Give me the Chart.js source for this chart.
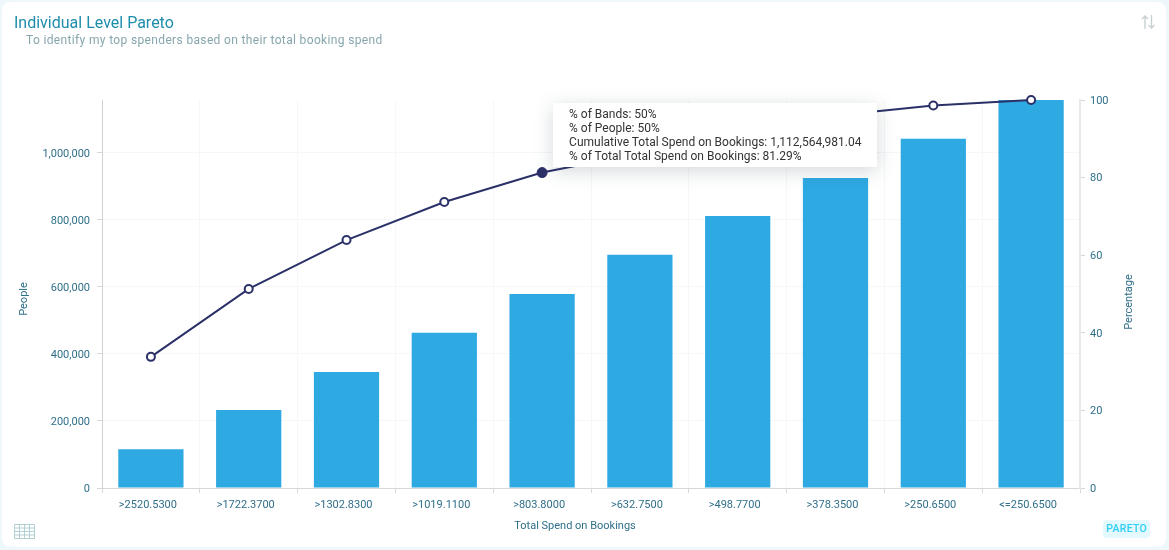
<!DOCTYPE html>
<html>
<head>
<meta charset="utf-8">
<script src="https://cdn.jsdelivr.net/npm/chart.js@4/dist/chart.umd.min.js"></script>
<style>
    html, body { margin: 0; padding: 0; width: 1169px; height: 550px; overflow: hidden; background: #eef7f9; font-family: Roboto, sans-serif; }
    #card { position: absolute; left: 2px; top: 2px; width: 1164px; height: 545px; background: #fff; border-radius: 8px; }
    #chartWrap { position: absolute; left: 0; top: 0; width: 1169px; height: 550px; }
    #title { position: absolute; left: 14px; top: 13px; font-size: 16px; line-height: 19px; color: #1d8dab; }
    #subtitle { position: absolute; left: 26px; top: 33px; font-size: 12px; line-height: 15px; letter-spacing: 0.35px; color: #86a6ae; }
    .axisTitle { position: absolute; font-size: 11px; line-height: 13px; color: #2f6f8a; white-space: nowrap; transform: translate(-50%, -50%); }
    .axisTitle.side { transform: translate(-50%, -50%) rotate(-90deg); }
    #badge { position: absolute; left: 1103px; top: 520px; width: 47px; height: 18px; line-height: 18px; text-align: center; border-radius: 4px; background: #e4f9fe; color: #2fd0f5; font-size: 10.5px; font-weight: 500; letter-spacing: 0.3px; }
    #tip { position: absolute; display: none; background: #fff; color: #333; font-size: 12px; line-height: 14px; padding: 4px 16px; box-shadow: 0 4px 18px rgba(60, 80, 90, 0.22); white-space: nowrap; }
    svg { position: absolute; }
</style>
</head>
<body>
<div id="card"></div>
<div id="chartWrap"><canvas id="paretoChart" width="1169" height="550"></canvas></div>
<div id="title">Individual Level Pareto</div>
<div id="subtitle">To identify my top spenders based on their total booking spend</div>
<div class="axisTitle side" style="left:23px;top:299px">People</div>
<div class="axisTitle side" style="left:1128px;top:302px">Percentage</div>
<div class="axisTitle" style="left:575px;top:525px">Total Spend on Bookings</div>
<svg style="left:1141px;top:14px" width="15" height="16" viewBox="0 0 15 16" fill="none" stroke="#c8d0d2" stroke-width="1.4">
    <path d="M4 15V2M1 5l3-3 3 3M10.500 1v13M7.500 11l3 3 3-3"/>
</svg>
<svg style="left:14px;top:524px" width="21" height="15" viewBox="0 0 21 15" fill="none" stroke="#b2cfd3" stroke-width="1">
    <path d="M.5.500h20v14H.5zM.5 4h20M.5 7.500h20M.5 11h20M5.500.5v14M10.500.5v14M15.500.5v14"/>
</svg>
<div id="badge">PARETO</div>
<div id="tip"></div>
<script>
    const categories = ['>2520.5300', '>1722.3700', '>1302.8300', '>1019.1100', '>803.8000', '>632.7500', '>498.7700', '>378.3500', '>250.6500', '<=250.6500'];
    const people = [116000, 233000, 346000, 463000, 579000, 696000, 812000, 925000, 1042000, 1158000];
    const percentage = [33.8, 51.3, 63.9, 73.7, 81.29, 86.3, 92, 96, 98.6, 100];
    const peopleTicks = [0, 200000, 400000, 600000, 800000, 1000000];
    const percentTicks = [0, 20, 40, 60, 80, 100];
    const tooltipLines = [
        '% of Bands: 50%',
        '% of People: 50%',
        'Cumulative Total Spend on Bookings: 1,112,564,981.04',
        '% of Total Total Spend on Bookings: 81.29%'
    ];
    const activeIndex = 4;

    const tickColor = '#2f6f8a';
    const navy = '#2b3068';

    function externalTip(context) {
        const tip = document.getElementById('tip');
        const tooltip = context.tooltip;
        if (tooltip.opacity === 0) {
            tip.style.display = 'none';
            return;
        }
        tip.innerHTML = tooltipLines.map(function(line) { return '<div>' + line + '</div>'; }).join('');
        tip.style.display = 'block';
        tip.style.left = (tooltip.caretX + 11) + 'px';
        tip.style.top = '103px';
    }

    const chart = new Chart(document.getElementById('paretoChart').getContext('2d'), {
        type: 'bar',
        data: {
            labels: categories,
            datasets: [{
                type: 'line',
                label: 'Percentage',
                data: percentage,
                yAxisID: 'y1',
                borderColor: navy,
                borderWidth: 2,
                backgroundColor: '#fff',
                pointBackgroundColor: '#fff',
                pointBorderColor: navy,
                pointBorderWidth: 2,
                pointRadius: 4,
                pointHoverRadius: 5,
                pointHoverBackgroundColor: navy,
                pointHoverBorderColor: navy,
                pointHoverBorderWidth: 1,
                tension: 0,
                clip: false,
                order: 1
            }, {
                type: 'bar',
                label: 'People',
                data: people,
                yAxisID: 'y',
                backgroundColor: '#2ea9e2',
                categoryPercentage: 1,
                barPercentage: 0.667,
                order: 2
            }]
        },
        options: {
            responsive: false,
            animation: false,
            events: [],
            layout: { padding: { left: 14, right: 32, top: 100, bottom: 18 } },
            plugins: {
                legend: { display: false },
                tooltip: { enabled: false, external: externalTip }
            },
            scales: {
                x: {
                    grid: { color: '#f5f7f8', tickColor: '#d5d8da', tickLength: 5 },
                    border: { color: '#d5d8da' },
                    ticks: { color: tickColor, font: { family: 'Roboto', size: 11 }, maxRotation: 0, autoSkip: false, padding: 6, labelOffset: -3 },
                    afterFit: function(scale) { scale.height = 44; }
                },
                y: {
                    position: 'left',
                    min: 0,
                    max: 1158000,
                    afterBuildTicks: function(scale) { scale.ticks = peopleTicks.map(function(v) { return { value: v }; }); },
                    grid: { color: '#f5f7f8', tickColor: '#d5d8da', tickLength: 5 },
                    border: { color: '#cfd3d5' },
                    ticks: { color: tickColor, font: { family: 'Roboto', size: 11 }, padding: 7, labelOffset: 1, callback: function(v) { return v.toLocaleString('en-US'); } },
                    afterFit: function(scale) { scale.width = 88; }
                },
                y1: {
                    position: 'right',
                    min: 0,
                    max: 100,
                    afterBuildTicks: function(scale) { scale.ticks = percentTicks.map(function(v) { return { value: v }; }); },
                    grid: { drawOnChartArea: false, tickColor: '#d5d8da', tickLength: 5 },
                    border: { color: '#e6e8e9', width: 2 },
                    ticks: { color: tickColor, font: { family: 'Roboto', size: 11 }, padding: 5, labelOffset: 1 },
                    afterFit: function(scale) { scale.width = 57; }
                }
            }
        }
    });

    const shown = [{ datasetIndex: 0, index: activeIndex }];
    chart.setActiveElements(shown);
    const pt = chart.getDatasetMeta(0).data[activeIndex];
    chart.tooltip.setActiveElements(shown, { x: pt.x, y: pt.y });
    chart.update('none');
</script>
</body>
</html>
